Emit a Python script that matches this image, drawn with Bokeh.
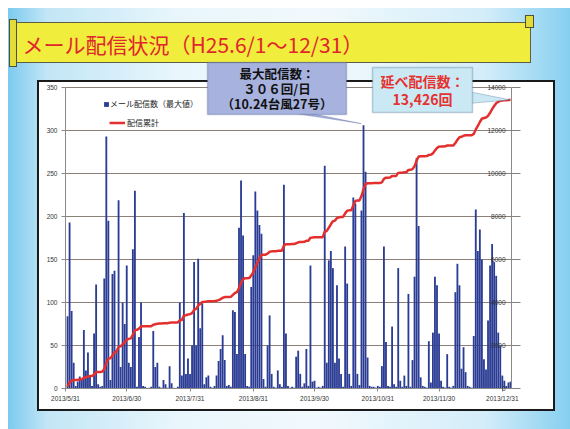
import numpy as np
import pandas as pd
from bokeh.plotting import figure
from bokeh.models import (Range1d, LinearAxis, SingleIntervalTicker, FixedTicker, Grid,
                          Label, BoxAnnotation, PolyAnnotation, Legend, LegendItem)
from bokeh.embed import file_html
from bokeh.resources import INLINE

# ---------------- data ----------------
start_date = "2013-06-01"
end_date = "2014-01-04"
axis_origin = "2013-05-31"

daily_counts = [
    # Jun 1 - Jul 10
    84, 193, 90, 30, 3, 8, 14, 10, 68, 21, 42, 14, 3, 64, 121, 5, 2, 3, 128, 293,
    195, 10, 133, 137, 45, 219, 25, 100, 75, 143, 30, 25, 162, 230, 2, 60, 100, 3, 2, 0,
    # Jul 11 - Aug 19
    1, 2, 67, 25, 30, 2, 1, 10, 5, 1, 26, 6, 1, 0, 2, 100, 15, 204, 17, 35,
    17, 50, 147, 50, 151, 70, 99, 5, 13, 15, 2, 1, 3, 15, 32, 46, 62, 33, 3, 4,
    # Aug 20 - Oct 28
    2, 91, 89, 40, 187, 242, 178, 40, 3, 2, 118, 155, 229, 207, 190, 180, 11, 2, 50, 85,
    17, 2, 1, 21, 5, 2, 237, 64, 3, 1, 2, 1, 37, 44, 17, 2, 6, 46, 3, 143,
    8, 9, 1, 2, 1, 3, 259, 30, 149, 160, 140, 30, 120, 35, 17, 2, 165, 122, 17, 3,
    222, 215, 17, 4, 207, 306, 252, 36, 3, 2,
    # Oct 29 - Dec 31
    2, 1, 3, 2, 26, 165, 54, 3, 2, 72, 5, 2, 140, 9, 2, 15, 3, 110, 2, 33,
    130, 268, 189, 13, 3, 2, 1, 55, 7, 65, 130, 120, 64, 9, 2, 1, 40, 2, 1, 3,
    112, 145, 120, 23, 48, 19, 3, 2, 1, 61, 208, 160, 185, 150, 34, 22, 79, 143, 168, 147,
    131, 65, 50, 15,
    # Jan 1 - Jan 4
    9, 3, 7, 8,
]

tick_dates = ["2013-05-31", "2013-06-30", "2013-07-31", "2013-08-31",
              "2013-09-30", "2013-10-31", "2013-11-30", "2013-12-31"]
tick_labels = ["2013/5/31", "2013/6/30", "2013/7/31", "2013/8/31",
               "2013/9/30", "2013/10/31", "2013/11/30", "2013/12/31"]

left_max, left_step = 350, 50
right_max, right_step = 14000, 2000

title_text = "メール配信状況（H25.6/1～12/31）"
legend_bar = "メール配信数（最大値）"
legend_line = "配信累計"
max_note = "最大配信数：\n３０６回/日\n（10.24台風27号）"
total_note = "延べ配信数：\n13,426回"

# ---------------- derived ----------------
origin = pd.Timestamp(axis_origin)
dates = pd.date_range(start_date, end_date, freq="D")
day = np.asarray((dates - origin).days, dtype=float)
counts = np.asarray(daily_counts, dtype=float)
cum = np.cumsum(counts)
tick_pos = [int((pd.Timestamp(t) - origin).days) for t in tick_dates]

# ---------------- geometry (page px; figure fills the page) ----------------
FIG_W, FIG_H = 570, 429
PX_L, PX_R, PX_T, PX_B = 65, 511, 87, 388      # plot-area edges
X_END = 218.5                                  # day index at the right axis
kx = X_END / (PX_R - PX_L)
ky = left_max / (PX_B - PX_T)
kc = right_max / (PX_B - PX_T)


def xd(px):
    return (px - PX_L) * kx


def yd(py):
    return (PX_B - py) * ky


BAR = "#2b3c94"
RED = "#e3302e"
GRID = "#8c8178"
AX = "#8a8a8a"


def rect(color, x, y, w, h):
    return f"linear-gradient({color},{color}) {x}px {y}px / {w}px {h}px no-repeat"


css_bg = ", ".join([
    rect("#e2dc3a", 10, 20, 6, 46),
    rect("#4f4f3c", 9, 19, 8, 48),
    rect("#e2dc3a", 526, 16, 7, 11),
    rect("#4f4f3c", 525, 15, 9, 13),
    rect("#f1ed3d", 12, 23, 518, 39),
    rect("#5e5e48", 11, 22, 520, 41),
    rect("#ffffff", 39, 82, 514, 327),
    rect("#1a1a1a", 37, 80, 518, 331),
    "linear-gradient(90deg, #7ccaee 0%, #c2e6f6 7%, #e8f6fc 30%, #f2f9fd 55%, #d3edf9 85%, #86cff0 100%)"
    " 8px 8px / 562px 421px no-repeat #ffffff",
])

p = figure(width=FIG_W, height=FIG_H, output_backend="svg", toolbar_location=None,
           x_range=Range1d(-PX_L * kx, X_END + (FIG_W - PX_R) * kx),
           y_range=Range1d(-(FIG_H - PX_B) * ky, left_max + PX_T * ky),
           min_border=0, min_border_left=0, min_border_right=0,
           min_border_top=0, min_border_bottom=0,
           border_fill_color=None, background_fill_color=None,
           outline_line_color=None, styles={"background": css_bg})
p.extra_y_ranges = {"cum": Range1d(-(FIG_H - PX_B) * kc, right_max + PX_T * kc)}

# x axis (fixed at y = 0)
xa = p.below[0]
xa.fixed_location = 0
xa.bounds = (0, X_END)
xa.ticker = FixedTicker(ticks=tick_pos)
xa.major_label_overrides = {t: lab for t, lab in zip(tick_pos, tick_labels)}
xa.axis_line_color = AX
xa.major_tick_line_color = AX
xa.major_tick_out = 3
xa.major_tick_in = 0
xa.minor_tick_line_color = None
xa.major_label_standoff = 3
xa.major_label_text_font = "Liberation Sans"
xa.major_label_text_font_size = "6.5px"
xa.major_label_text_color = "#333333"

# left axis (fixed at x = 0)
yl = p.left[0]
yl.fixed_location = 0
yl.bounds = (0, left_max)
yl.ticker = SingleIntervalTicker(interval=left_step, num_minor_ticks=0)
yl.axis_line_color = AX
yl.major_tick_line_color = AX
yl.major_tick_out = 4
yl.major_tick_in = 0
yl.minor_tick_line_color = None
yl.major_label_standoff = 4
yl.major_label_text_font = "Liberation Sans"
yl.major_label_text_font_size = "6.5px"
yl.major_label_text_color = "#333333"

p.xgrid.visible = False
grid_vals = list(range(left_step, left_max + 1, left_step))
if "cross_bounds" in Grid.properties():
    p.ygrid.ticker = FixedTicker(ticks=grid_vals)
    p.ygrid.bounds = (0, left_max)
    p.ygrid.cross_bounds = (0, X_END)
    p.ygrid.grid_line_color = GRID
    p.ygrid.grid_line_width = 1
else:
    p.ygrid.visible = False
    p.segment(x0=0, x1=X_END, y0=grid_vals, y1=grid_vals, line_color=GRID,
              line_width=1, level="underlay")

# bars and cumulative line
bars = p.vbar(x=day, top=counts, width=0.9, fill_color=BAR, line_color=None)
line = p.line(day, cum, y_range_name="cum", line_color=RED, line_width=2.5)

# right-hand cumulative axis (labels inside, at the right edge)
yr = LinearAxis(y_range_name="cum",
                ticker=SingleIntervalTicker(interval=right_step, num_minor_ticks=0),
                fixed_location=X_END, bounds=(0, right_max))
yr.axis_line_color = AX
yr.major_tick_line_color = GRID
yr.major_tick_in = 9
yr.major_tick_out = 0
yr.minor_tick_line_color = None
yr.major_label_standoff = 6
yr.major_label_text_font = "Liberation Sans"
yr.major_label_text_font_size = "6.5px"
yr.major_label_text_color = "#333333"
p.add_layout(yr, "left")

# legends (location measured from the bottom-left of the page)
leg1 = Legend(items=[LegendItem(label=legend_bar, renderers=[bars])],
              location=(103, FIG_H - 109), glyph_width=6, glyph_height=6, label_height=9,
              padding=0, margin=0, spacing=0, label_standoff=1,
              label_text_font="Noto Sans CJK JP", label_text_font_size="8px",
              label_text_color="#222222", background_fill_alpha=0, border_line_alpha=0)
leg2 = Legend(items=[LegendItem(label=legend_line, renderers=[line])],
              location=(109, FIG_H - 128), glyph_width=16, glyph_height=9, label_height=9,
              padding=0, margin=0, spacing=0, label_standoff=2,
              label_text_font="Noto Sans CJK JP", label_text_font_size="8px",
              label_text_color="#222222", background_fill_alpha=0, border_line_alpha=0)
p.add_layout(leg1)
p.add_layout(leg2)

# callout: maximum day
imax = int(np.argmax(counts))
tip_x, tip_y = day[imax] - 1.2, counts[imax] + 2
p.add_layout(PolyAnnotation(xs=[xd(288), xd(306), tip_x], ys=[yd(112), yd(112), tip_y],
                            fill_color="#a7b3de", fill_alpha=1, line_color="#44548a", line_width=1))
p.add_layout(BoxAnnotation(left=xd(207), right=xd(346), top=yd(62), bottom=yd(114),
                           fill_color="#a7b3de", fill_alpha=1, line_color="#44548a", line_width=1.5))
p.add_layout(Label(x=xd(276.5), y=yd(88), text=max_note, text_align="center",
                   text_baseline="middle", text_font="Noto Sans CJK JP", text_font_style="bold",
                   text_font_size="12.5px", text_color="#111111", text_line_height=0.8))

# callout: total
end_x, end_y = day[-1] - 0.3, cum[-1] * left_max / right_max
p.add_layout(PolyAnnotation(xs=[xd(468), xd(468), end_x], ys=[yd(91), yd(103), end_y],
                            fill_color="#cbe9f5", fill_alpha=1, line_color="#3e5e80", line_width=1))
p.add_layout(BoxAnnotation(left=xd(372), right=xd(472), top=yd(67), bottom=yd(112),
                           fill_color="#cbe9f5", fill_alpha=1, line_color="#3e5e80", line_width=1.5))
p.add_layout(Label(x=xd(422), y=yd(89.5), text=total_note, text_align="center",
                   text_baseline="middle", text_font="Noto Sans CJK JP", text_font_style="bold",
                   text_font_size="14px", text_color="#e5322f", text_line_height=0.9))

# title banner text
p.add_layout(Label(x=xd(22), y=yd(43), text=title_text, text_align="left",
                   text_baseline="middle", text_font="Noto Sans CJK JP",
                   text_font_size="21px", text_color="#e0262c"))

open("out.html", "w").write(file_html(p, INLINE))
